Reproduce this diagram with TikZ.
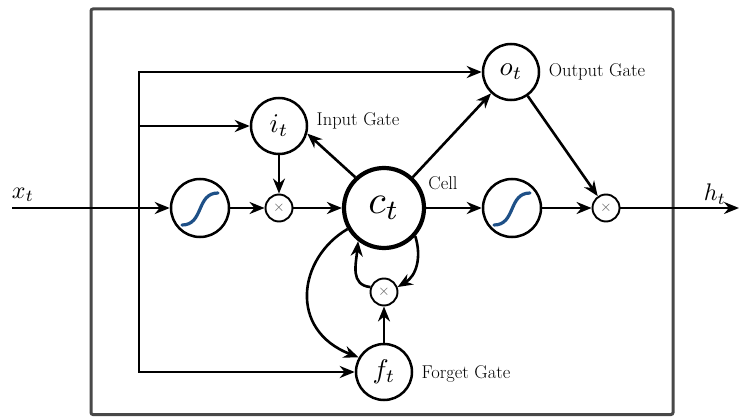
\documentclass[tikz,border=0pt]{standalone}
\usepackage{graphicx}
\usetikzlibrary{arrows.meta}
\definecolor{boxgray}{RGB}{72,72,72}
\definecolor{sigblue}{RGB}{30,80,135}
\newcommand{\mbig}[2]{\scalebox{#1}{$#2$}}
\begin{document}
\begin{tikzpicture}[x=1pt,y=1pt,
  arr/.style={line width=2.6pt, -{Stealth[length=15pt,width=12pt]}},
  gate/.style={circle, draw, line width=2.5pt, minimum size=56pt, inner sep=0pt},
  cell/.style={circle, draw, line width=4.2pt, minimum size=80pt, inner sep=0pt},
  sigm/.style={circle, draw, line width=2.5pt, minimum size=58pt, inner sep=0pt},
  mult/.style={circle, draw, line width=1.9pt, minimum size=27pt, inner sep=0pt, text=black!65},
  lbl/.style={font=\fontsize{18.5}{21}\selectfont, inner sep=0pt},
  iolbl/.style={inner sep=0pt},
  sigc/.style={draw=sigblue, line width=3.2pt, line cap=round}
]
\useasboundingbox (0,0) rectangle (739,416);
\draw[boxgray, line width=3pt, rounded corners=2pt] (91,1.5) rectangle (673,407);

% nodes
\node[sigm] (s1) at (200,208) {};
\node[mult] (m1) at (279,208) {\mbig{1.5}{\times}};
\node[gate] (i) at (279,290) {\mbig{2.7}{i_t}};
\node[cell] (c) at (384,208) {\mbig{4}{c_t}};
\node[gate] (o) at (511,344) {\mbig{2.7}{o_t}};
\node[sigm] (s2) at (512,208) {};
\node[mult] (m2) at (606,208) {\mbig{1.5}{\times}};
\node[gate] (f) at (384,44) {\mbig{2.7}{f_t}};
\node[mult] (m3) at (384,124) {\mbig{1.5}{\times}};

% sigmoid curves
\draw[sigc, shift={(s1.center)}] (-18,-17) .. controls (4,-17) and (-4,15) .. (18,15);
\draw[sigc, shift={(s2.center)}] (-18,-17) .. controls (4,-17) and (-4,15) .. (18,15);

% labels
\node[lbl] (li) at (358,295) {Input Gate};
\node[lbl] (lc) at (443,233) {Cell};
\node[lbl] (lo) at (597,344) {Output Gate};
\node[lbl] (lf) at (466,42) {Forget Gate};
\node[iolbl] (xt) at (23,221) {\mbig{2.4}{x_t}};
\node[iolbl] (ht) at (715,222) {\mbig{2.4}{h_t}};

% free ends
\coordinate (xin) at (12,208);
\coordinate (hout) at (739,208);
\coordinate (brt) at (139,344);
\coordinate (brm) at (139,290);
\coordinate (brb) at (139,44);

% connectors
\draw[arr] (xin) -- (s1);
\draw[arr] (brb) -- (brt) -- (o);
\draw[arr] (brt) -- (brb) -- (f);
\draw[arr] (brm) -- (i);
\draw[arr] (s1) -- (m1);
\draw[arr] (m1) -- (c);
\draw[arr] (i) -- (m1);
\draw[arr] (c.133) -- (i.-15);
\draw[arr] (c) -- (o);
\draw[arr] (c) -- (s2);
\draw[arr] (s2) -- (m2);
\draw[arr] (o) -- (m2);
\draw[arr] (m2) -- (hout);
\draw[arr] (f) -- (m3);
\draw[arr] (c.210) .. controls (298,158) and (288,86) .. (f.150);
\draw[arr] (c.-42) .. controls (422,158) and (416,140) .. (m3.20);
\draw[arr] (m3.160) .. controls (350,131) and (356,152) .. (c.232);
\end{tikzpicture}
\end{document}
